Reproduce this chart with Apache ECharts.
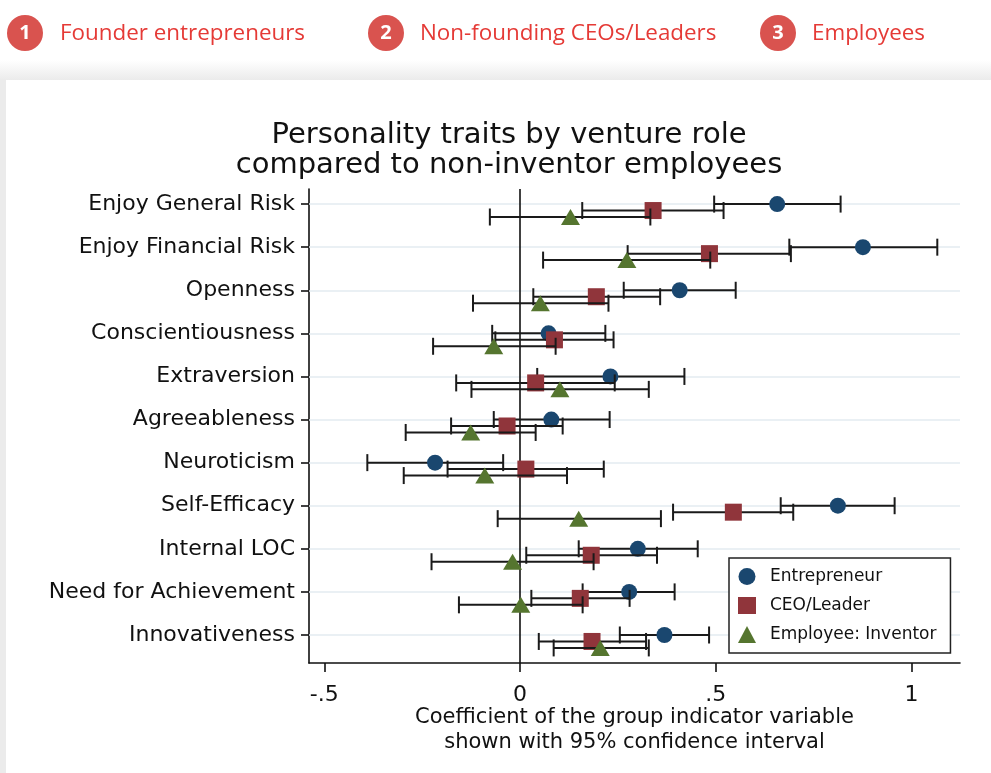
<!DOCTYPE html>
<html>
<head>
<meta charset="utf-8">
<script src="https://cdn.jsdelivr.net/npm/echarts@6/dist/echarts.min.js"></script>
<style>
html,body{margin:0;padding:0;background:#ffffff;}
#chart{width:991px;height:773px;}
</style>
</head>
<body>
<div id="chart"></div>
<script>
// ---- data ----
var categories = ["Enjoy General Risk","Enjoy Financial Risk","Openness","Conscientiousness","Extraversion","Agreeableness","Neuroticism","Self-Efficacy","Internal LOC","Need for Achievement","Innovativeness"];
var seriesNames = ["Entrepreneur","CEO/Leader","Employee: Inventor"];
var entCoef = [0.657,0.876,0.408,0.073,0.231,0.080,-0.217,0.812,0.301,0.279,0.369];
var entLow  = [0.496,0.688,0.265,-0.071,0.044,-0.067,-0.390,0.666,0.150,0.160,0.255];
var entHigh = [0.819,1.066,0.551,0.218,0.420,0.229,-0.043,0.957,0.454,0.395,0.483];
var ceoCoef = [0.340,0.484,0.195,0.088,0.040,-0.033,0.015,0.545,0.182,0.154,0.184];
var ceoLow  = [0.159,0.275,0.034,-0.063,-0.163,-0.176,-0.185,0.391,0.016,0.029,0.048];
var ceoHigh = [0.520,0.692,0.358,0.239,0.242,0.109,0.214,0.698,0.350,0.280,0.322];
var empCoef = [0.129,0.273,0.052,-0.067,0.102,-0.126,-0.090,0.150,-0.019,0.002,0.205];
var empLow  = [-0.077,0.059,-0.120,-0.222,-0.124,-0.292,-0.297,-0.057,-0.226,-0.156,0.086];
var empHigh = [0.333,0.486,0.226,0.091,0.329,0.040,0.120,0.360,0.188,0.160,0.329];
var xTickValues = [-0.5,0,0.5,1];
var xTickLabels = ["-.5","0",".5","1"];
var headerItems = ["Founder entrepreneurs","Non-founding CEOs/Leaders","Employees"];
var titleLines = ["Personality traits by venture role","compared to non-inventor employees"];
var xAxisTitle = ["Coefficient of the group indicator variable","shown with 95% confidence interval"];

// ---- styling / layout ----
var FONT = "DejaVu Sans";
var INK = "#111111";
var colors = ["#1a476f","#90353b","#55752f"];
var symbols = ["circle","rect","triangle"];
var symbolSizes = [16,17,[19,16]];
var rowShift = [0,0.15,0.30];   // vertical offset of each group within a row

var rowIdx = categories.map(function(_,i){return i;});

function pts(coef, k){ return coef.map(function(v,i){ return [v, i + rowShift[k]]; }); }
function bars(lo, hi, k){ return lo.map(function(v,i){ return [i + rowShift[k], v, hi[i]]; }); }

function renderBar(params, api){
  var y = api.value(0), lo = api.value(1), hi = api.value(2);
  var p1 = api.coord([lo, y]), p2 = api.coord([hi, y]);
  var h = 8.5;
  var st = {stroke:"#1a1a1a", lineWidth:2, fill:null};
  return {type:"group", children:[
    {type:"line", shape:{x1:p1[0],y1:p1[1],x2:p2[0],y2:p2[1]}, style:st},
    {type:"line", shape:{x1:p1[0],y1:p1[1]-h,x2:p1[0],y2:p1[1]+h}, style:st},
    {type:"line", shape:{x1:p2[0],y1:p2[1]-h,x2:p2[0],y2:p2[1]+h}, style:st}
  ]};
}

var coefs = [entCoef, ceoCoef, empCoef];
var lows = [entLow, ceoLow, empLow];
var highs = [entHigh, ceoHigh, empHigh];

var series = [{
  type:"scatter", data:[], z:1, silent:true,
  markLine:{silent:true, z:1, symbol:["none","none"], label:{show:false}, animation:false,
    data: rowIdx.map(function(i){ return {yAxis:i, lineStyle:{color:"#e3ebf1", width:1.5, type:"solid"}}; })
      .concat([{xAxis:0, lineStyle:{color:INK, width:1.6, type:"solid"}}])
  }
}];
for (var k=0;k<3;k++){
  series.push({
    type:"custom", renderItem:renderBar, data:bars(lows[k],highs[k],k),
    encode:{x:[1,2], y:0}, z:3+2*k, silent:true
  });
  series.push({
    type:"scatter", name:seriesNames[k], data:pts(coefs[k],k), symbol:symbols[k], symbolSize:symbolSizes[k],
    itemStyle:{color:colors[k], opacity:1}, z:4+2*k
  });
}

// header graphics
var headerCircleX = [25,386,778];
var headerTextX = [60,420,812];
var graphics = [
  {type:"rect", shape:{x:0,y:60,width:991,height:20}, silent:true, z:-10,
   style:{fill:new echarts.graphic.LinearGradient(0,0,0,1,[{offset:0,color:"#ffffff"},{offset:1,color:"#ebebeb"}])}},
  {type:"rect", shape:{x:0,y:79,width:6,height:694}, silent:true, z:-10, style:{fill:"#ebebeb"}}
];
headerItems.forEach(function(t,i){
  graphics.push({type:"circle", shape:{cx:headerCircleX[i], cy:33, r:18}, style:{fill:"#d9534f"}, silent:true});
  graphics.push({type:"text", x:headerCircleX[i], y:33, silent:true,
    style:{text:String(i+1), fill:"#ffffff", font:"bold 20px 'Open Sans'", align:"center", verticalAlign:"middle"}});
  graphics.push({type:"text", x:headerTextX[i], y:34, silent:true,
    style:{text:t, fill:"#e53a36", font:"22.4px 'Open Sans'", align:"left", verticalAlign:"middle"}});
});

var option = {
  animation:false,
  backgroundColor:"#ffffff",
  title:{text:titleLines.join("\n"), left:509, top:120, textAlign:"center", padding:0,
    textStyle:{fontFamily:FONT, fontSize:29, lineHeight:30, fontWeight:"normal", color:INK}},
  grid:{left:309, right:31, top:189, bottom:110},
  legend:{
    data:seriesNames.map(function(n,k){ return {name:n, icon:symbols[k]}; }),
    orient:"vertical", left:729, top:558, padding:[10,14,10,9], z:20,
    itemWidth:18, itemHeight:17, itemGap:12, backgroundColor:"#ffffff", symbolKeepAspect:true,
    borderColor:"#222", borderWidth:1.5, borderRadius:0,
    textStyle:{fontFamily:FONT, fontSize:17, color:INK, padding:[0,0,0,9]}
  },
  xAxis:{type:"value", min:-0.539, max:1.124,
    axisLine:{show:true, onZero:false, lineStyle:{color:INK, width:1.6}},
    axisTick:{show:true, length:9, customValues:xTickValues, lineStyle:{color:INK, width:1.6}},
    axisLabel:{customValues:xTickValues, margin:21, fontFamily:FONT, fontSize:22, color:INK,
      formatter:function(v){ var j = xTickValues.indexOf(v); return j>=0 ? xTickLabels[j] : ""; }},
    splitLine:{show:false},
    name:xAxisTitle.join("\n"), nameLocation:"middle", nameGap:42, nameMoveOverlap:false,
    nameTextStyle:{fontFamily:FONT, fontSize:21, lineHeight:25, color:INK, verticalAlign:"top"}
  },
  yAxis:{type:"value", inverse:true, min:-0.35, max:10.65,
    axisLine:{show:true, onZero:false, lineStyle:{color:INK, width:1.6}},
    axisTick:{show:true, length:8, customValues:rowIdx, lineStyle:{color:INK, width:1.6}},
    axisLabel:{customValues:rowIdx, margin:14, fontFamily:FONT, fontSize:22, color:INK,
      formatter:function(v){ return categories[Math.round(v)]; }},
    splitLine:{show:false}
  },
  graphic:graphics,
  series:series
};

var chart = echarts.init(document.getElementById("chart"), null, {renderer:"canvas"});
chart.setOption(option);
</script>
</body>
</html>
